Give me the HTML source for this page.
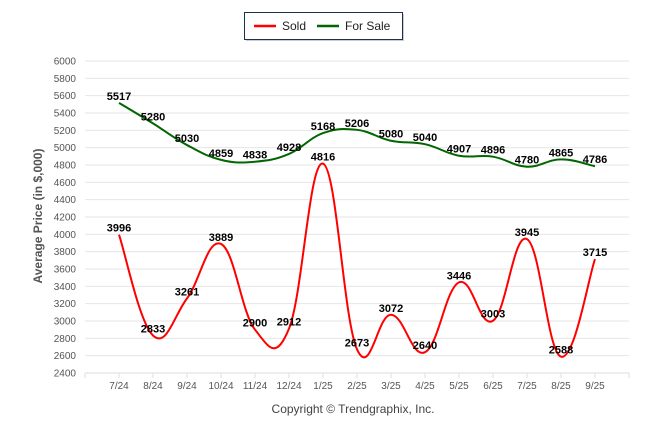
<!DOCTYPE html>
<html><head><meta charset="utf-8"><style>
body{margin:0;background:#fff;width:646px;height:434px;overflow:hidden;font-family:"Liberation Sans",Arial,sans-serif}
</style></head><body>
<svg width="646" height="434" xmlns="http://www.w3.org/2000/svg">
<g id="grid"></g>
<g id="yt" font-size="10" fill="#555" text-anchor="end"></g>
<g id="xt" font-size="10" fill="#555" text-anchor="middle"></g>
<text transform="translate(42,216) rotate(-90)" text-anchor="middle" font-size="12" font-weight="bold" fill="#555">Average Price (in $,000)</text>
<g id="series"></g>
<g>
<rect x="246" y="14" width="158" height="27" fill="#999" opacity="0.5"/>
<rect x="244.5" y="12.5" width="158" height="27" fill="#fff" stroke="#1c2f55" stroke-width="1"/>
<g><line x1="254" y1="26" x2="276" y2="26" stroke="#f00" stroke-width="2.5"/><text x="282" y="30" font-size="12" fill="#222">Sold</text></g>
<g><line x1="317" y1="26" x2="339" y2="26" stroke="#060" stroke-width="2.5"/><text x="345" y="30" font-size="12" fill="#222">For Sale</text></g>
</g>
<text x="353" y="413" text-anchor="middle" font-size="12" fill="#444">Copyright © Trendgraphix, Inc.</text>
</svg>
<script>
const categories=["7/24","8/24","9/24","10/24","11/24","12/24","1/25","2/25","3/25","4/25","5/25","6/25","7/25","8/25","9/25"];
const sold=[3996,2833,3261,3889,2900,2912,4816,2673,3072,2640,3446,3003,3945,2588,3715];
const forSale=[5517,5280,5030,4859,4838,4928,5168,5206,5080,5040,4907,4896,4780,4865,4786];
const yTicks=[2400,2600,2800,3000,3200,3400,3600,3800,4000,4200,4400,4600,4800,5000,5200,5400,5600,5800,6000];
const NS="http://www.w3.org/2000/svg";
const X0=85,X1=629,Y0=373,Y1=61;
const xs=i=>119+i*34;
const ys=v=>Y0-(v-2400)/(6000-2400)*(Y0-Y1);
function mk(t,a,p){const e=document.createElementNS(NS,t);for(const k in a)e.setAttribute(k,a[k]);p.appendChild(e);return e;}
const grid=document.getElementById('grid'),yt=document.getElementById('yt'),xt=document.getElementById('xt'),ser=document.getElementById('series');
yTicks.forEach(v=>{
 const l=mk('line',{x1:X0,x2:X1,y1:ys(v),y2:ys(v),stroke:'#e6e6e6','stroke-width':1},grid);
 
 
 const t=mk('text',{x:76,y:ys(v)+3.5},yt);t.textContent=v;
 
 
});
mk('line',{x1:X0,x2:X1,y1:Y0,y2:Y0,stroke:'#ddd'},grid);
for(let i=-1;i<=categories.length;i++){mk('line',{x1:xs(i),x2:xs(i),y1:Y0,y2:Y0+5,stroke:'#ddd'},grid);}
categories.forEach((c,i)=>{const t=mk('text',{x:xs(i),y:389},xt);t.textContent=c;
 
 });
function path(vals){
 const p=vals.map((v,i)=>[xs(i),ys(v)]);let d=`M${p[0][0]},${p[0][1]}`;const k=0.2;
 for(let i=0;i<p.length-1;i++){const a=p[i-1]||p[i],b=p[i],c=p[i+1],e=p[i+2]||c;
  d+=` C${b[0]+(c[0]-a[0])*k},${b[1]+(c[1]-a[1])*k} ${c[0]-(e[0]-b[0])*k},${c[1]-(e[1]-b[1])*k} ${c[0]},${c[1]}`;}
 return d;}
function series(vals,col,name){
 const g=mk('g',{},ser);
 
 
 mk('path',{d:path(vals),fill:'none',stroke:col,'stroke-width':2},g);
 vals.forEach((v,i)=>{const t=mk('text',{x:xs(i),y:ys(v)-3,'text-anchor':'middle','font-size':11,'font-weight':'bold',fill:'#000'},g);t.textContent=v;
  
  });
}
series(forSale,'#060','for-sale-line');
series(sold,'#f00','sold-line');
</script>
</body></html>
